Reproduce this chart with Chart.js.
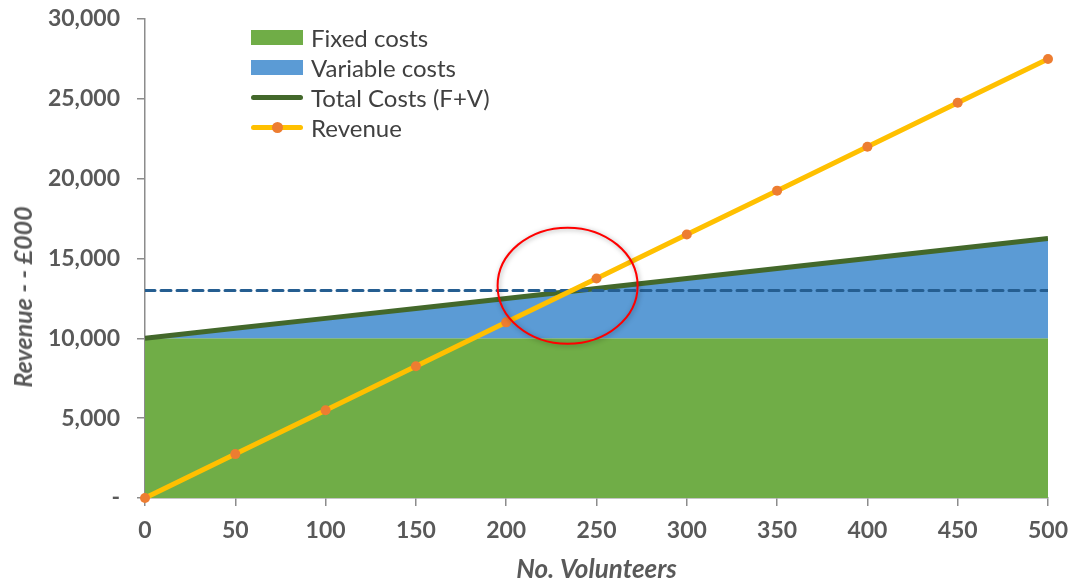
<!DOCTYPE html>
<html>
<head>
<meta charset="utf-8">
<script src="https://cdn.jsdelivr.net/npm/chart.js@4.4.1/dist/chart.umd.min.js"></script>
<style>
    body { margin: 0; background: #fff; }
    #wrap { position: relative; width: 1074px; height: 580px; }
    #legend { position: absolute; left: 251px; top: 22px; font-family: Lato, sans-serif; font-size: 24px; color: #404040; }
    .row { height: 30px; display: flex; align-items: center; }
    .sw { width: 52px; height: 15px; margin-right: 8px; position: relative; }
    .ln { position: absolute; left: 0; right: 0; top: 5px; height: 5px; border-radius: 3px; }
    .dot { position: absolute; left: 21px; top: 2px; width: 11px; height: 11px; border-radius: 50%; background: #ED7D31; }
    #ytitle { position: absolute; left: 22px; top: 297px; transform: translate(-50%, -50%) rotate(-90deg);
              white-space: nowrap; font-family: Lato, sans-serif; font-size: 25px; font-weight: bold; font-style: italic; color: #595959; }
</style>
</head>
<body>
<div id="wrap">
    <canvas id="chart" width="1074" height="580"></canvas>
    <div id="ytitle">Revenue - - £000</div>
    <div id="legend">
        <div class="row"><span class="sw" style="background:#70AD47"></span>Fixed costs</div>
        <div class="row"><span class="sw" style="background:#5B9BD5"></span>Variable costs</div>
        <div class="row"><span class="sw"><span class="ln" style="background:#43682B"></span></span>Total Costs (F+V)</div>
        <div class="row"><span class="sw"><span class="ln" style="background:#FFC000"></span><span class="dot"></span></span>Revenue</div>
    </div>
</div>
<script>
    // Values (£000)
    const volunteers = [0, 50, 100, 150, 200, 250, 300, 350, 400, 450, 500];
    const fixedCosts = [10000, 10000, 10000, 10000, 10000, 10000, 10000, 10000, 10000, 10000, 10000];
    const totalCosts = [10000, 10625, 11250, 11875, 12500, 13125, 13750, 14375, 15000, 15625, 16250];
    const revenue = [0, 2750, 5500, 8250, 11000, 13750, 16500, 19250, 22000, 24750, 27500];
    const breakEvenLine = [13000, 13000];
    const breakEvenX = [0, 500];
    const circleCentre = { x: 234, y: 13300 };

    function points(xs, ys) {
        return xs.map((x, i) => ({ x: x, y: ys[i] }));
    }

    const font = 'Lato, sans-serif';
    const grey = '#595959';

    // Red ring round the break-even point
    const ringPlugin = {
        id: 'ring',
        afterDatasetsDraw(chart) {
            const ctx = chart.ctx;
            const cx = chart.scales.x.getPixelForValue(circleCentre.x);
            const cy = chart.scales.y.getPixelForValue(circleCentre.y);
            ctx.save();
            ctx.shadowColor = 'rgba(0,0,0,0.35)';
            ctx.shadowBlur = 5;
            ctx.shadowOffsetX = 1;
            ctx.shadowOffsetY = 1;
            ctx.strokeStyle = '#FF0000';
            ctx.lineWidth = 2;
            ctx.beginPath();
            ctx.ellipse(cx, cy, 70, 58, 0, 0, Math.PI * 2);
            ctx.stroke();
            ctx.restore();
        }
    };

    new Chart(document.getElementById('chart'), {
        type: 'line',
        data: {
            datasets: [
                {
                    label: 'Fixed costs',
                    data: points(volunteers, fixedCosts),
                    fill: 'origin',
                    backgroundColor: '#70AD47',
                    borderWidth: 0,
                    pointRadius: 0,
                    order: 5
                },
                {
                    label: 'Total Costs (F+V)',
                    data: points(volunteers, totalCosts),
                    fill: { target: 0 },
                    backgroundColor: '#5B9BD5',
                    borderColor: '#43682B',
                    borderWidth: 5,
                    pointRadius: 0,
                    order: 3
                },
                {
                    label: 'Break even',
                    data: points(breakEvenX, breakEvenLine),
                    fill: false,
                    borderColor: '#255E91',
                    borderWidth: 3,
                    borderDash: [10, 6],
                    borderCapStyle: 'round',
                    pointRadius: 0,
                    order: 2
                },
                {
                    label: 'Revenue',
                    data: points(volunteers, revenue),
                    fill: false,
                    borderColor: '#FFC000',
                    borderWidth: 5,
                    pointRadius: 5,
                    pointBackgroundColor: '#ED7D31',
                    pointBorderWidth: 0,
                    clip: false,
                    order: 1
                }
            ]
        },
        options: {
            responsive: false,
            animation: false,
            layout: { padding: { top: 19, right: 26, left: 0, bottom: 0 } },
            plugins: {
                legend: { display: false },
                tooltip: { enabled: false }
            },
            scales: {
                x: {
                    type: 'linear',
                    min: 0,
                    max: 500,
                    afterFit: function(scale) {
                        scale.height = 82;
                        scale.paddingLeft = 0;
                        scale.paddingRight = 0;
                    },
                    border: { color: '#8C8C8C', width: 1.5 },
                    grid: { drawOnChartArea: false, tickLength: 8, color: '#8C8C8C', lineWidth: 1.5 },
                    ticks: {
                        stepSize: 50,
                        padding: 11,
                        color: grey,
                        font: { family: font, size: 23, weight: 'bold' }
                    },
                    title: {
                        display: true,
                        text: 'No. Volunteers',
                        color: grey,
                        padding: { top: 0, bottom: -5 },
                        font: { family: font, size: 26, weight: 'bold', style: 'italic' }
                    }
                },
                y: {
                    min: 0,
                    max: 30000,
                    afterFit: function(scale) {
                        scale.width = 145;
                        scale.paddingTop = 0;
                        scale.paddingBottom = 0;
                    },
                    border: { color: '#8C8C8C', width: 1.5 },
                    grid: { drawOnChartArea: false, tickLength: 8, color: '#8C8C8C', lineWidth: 1.5 },
                    ticks: {
                        stepSize: 5000,
                        padding: 17,
                        color: grey,
                        font: { family: font, size: 23, weight: 'bold' },
                        callback: function(value) {
                            return value === 0 ? '-' : value.toLocaleString('en-US');
                        }
                    }
                }
            }
        },
        plugins: [ringPlugin]
    });
</script>
</body>
</html>
